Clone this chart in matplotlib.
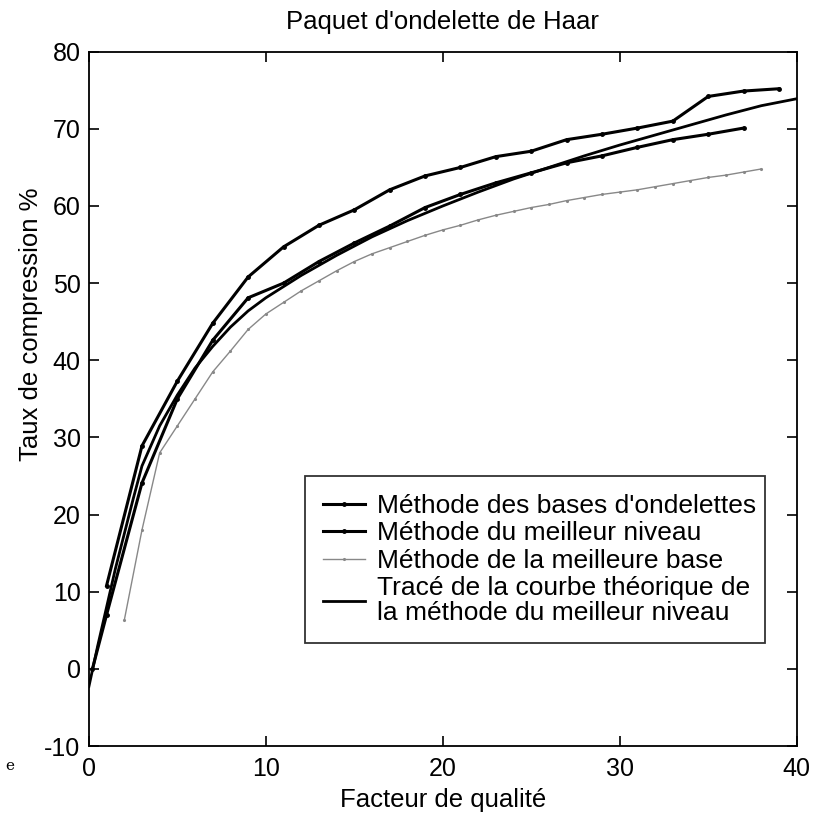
import numpy as np
import matplotlib.pyplot as plt

plt.rcParams['font.family'] = ['Liberation Sans', 'DejaVu Sans']
plt.rcParams['axes.unicode_minus'] = False

# Méthode des bases d'ondelettes
x_ond = [1, 3, 5, 7, 9, 11, 13, 15, 17, 19, 21, 23, 25, 27, 29, 31, 33, 35, 37, 39]
y_ond = [10.8, 28.9, 37.3, 44.8, 50.8, 54.7, 57.5, 59.5, 62.1, 63.9, 65.0, 66.4,
         67.1, 68.6, 69.3, 70.1, 71.0, 74.2, 74.9, 75.2]

# Méthode du meilleur niveau
x_mn = [0.2, 1, 3, 5, 7, 9, 11, 13, 15, 17, 19, 21, 23, 25, 27, 29, 31, 33, 35, 37]
y_mn = [0.0, 7.0, 24.1, 35.0, 42.6, 48.1, 50.0, 52.8, 55.2, 57.4, 59.8, 61.5,
        63.0, 64.3, 65.6, 66.5, 67.6, 68.6, 69.3, 70.1]

# Méthode de la meilleure base
x_mb = [2, 3, 4, 5, 6, 7, 8, 9, 10, 11, 12, 13, 14, 15, 16, 17, 18, 19, 20,
        21, 22, 23, 24, 25, 26, 27, 28, 29, 30, 31, 32, 33, 34, 35, 36, 37, 38]
y_mb = [6.3, 18.0, 28.0, 31.5, 35.0, 38.5, 41.2, 44.0, 46.0, 47.5, 49.0, 50.3,
        51.6, 52.8, 53.8, 54.6, 55.4, 56.2, 56.9, 57.5, 58.2, 58.8, 59.3, 59.8,
        60.2, 60.7, 61.1, 61.5, 61.8, 62.1, 62.5, 62.9, 63.3, 63.7, 64.0, 64.4, 64.8]

# Tracé de la courbe théorique
x_th = [0, 0.5, 1, 1.5, 2, 2.5, 3, 4, 5, 6, 7, 8, 9, 10, 12, 14, 16, 18, 20,
        22, 24, 26, 28, 30, 32, 34, 36, 38, 40]
y_th = [-2.3, 3.0, 8.0, 13.0, 17.5, 22.0, 26.3, 31.5, 35.5, 39.0, 41.8, 44.3,
        46.4, 48.1, 51.0, 53.6, 56.0, 58.1, 60.0, 61.8, 63.5, 65.0, 66.5, 67.9,
        69.2, 70.5, 71.8, 73.0, 73.9]

labels = ["Méthode des bases d'ondelettes",
          "Méthode du meilleur niveau",
          "Méthode de la meilleure base",
          "Tracé de la courbe théorique de\nla méthode du meilleur niveau"]

fig = plt.figure(figsize=(8.23, 8.13), dpi=100)
ax = fig.add_axes([0.108, 0.0824, 0.860, 0.854])

ax.plot(x_ond, y_ond, color='black', lw=2.2, marker='.', ms=5, label=labels[0])
ax.plot(x_mn, y_mn, color='black', lw=2.2, marker='.', ms=5, label=labels[1])
ax.plot(x_mb, y_mb, color='#888888', lw=1.0, marker='.', ms=2.5, label=labels[2])
ax.plot(x_th, y_th, color='black', lw=2.0, label=labels[3])

ax.set_xlim(0, 40)
ax.set_ylim(-10, 80)
ax.set_xticks([0, 10, 20, 30, 40])
ax.set_yticks(np.arange(-10, 81, 10))
ax.tick_params(direction='in', length=7, width=1.2, labelsize=18,
               top=True, right=True)
ax.tick_params(axis='x', pad=8)
ax.tick_params(axis='y', pad=6)
for s in ax.spines.values():
    s.set_linewidth(1.3)

ax.set_title("Paquet d'ondelette de Haar", fontsize=18.5, pad=16)
ax.set_xlabel("Facteur de qualité", fontsize=18.5, labelpad=5)
ax.set_ylabel("Taux de compression %", fontsize=18.5)
ax.yaxis.set_label_coords(-0.065, 0.607)

leg = ax.legend(loc='lower left', bbox_to_anchor=(0.305, 0.148, 0.65, 0.242),
                mode='expand', fontsize=19, frameon=True, fancybox=False,
                edgecolor='black', handlelength=1.6, handletextpad=0.45,
                labelspacing=0.13, borderpad=0.68, borderaxespad=0)
leg.get_frame().set_linewidth(1.3)
leg.get_texts()[3].set_linespacing(1.05)

fig.text(0.006, 0.053, 'e', family='DejaVu Serif', fontsize=11)

fig.savefig('out.png', dpi=100)
